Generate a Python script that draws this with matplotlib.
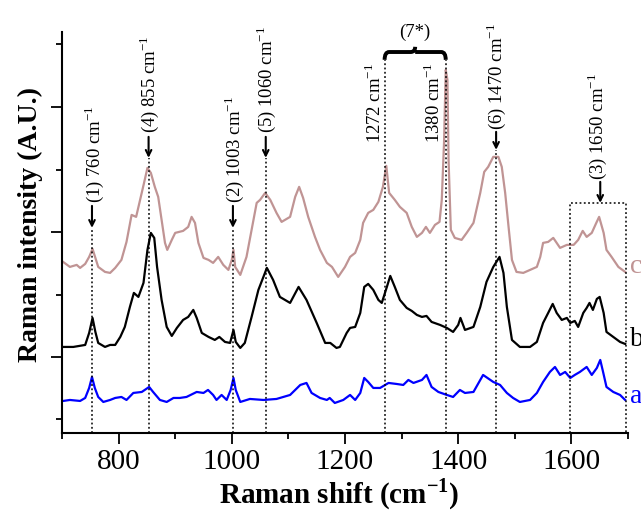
import numpy as np
import matplotlib
matplotlib.use("Agg")
import matplotlib.pyplot as plt
from matplotlib.path import Path
from matplotlib.patches import PathPatch

plt.rcParams['font.family'] = 'Liberation Serif'
plt.rcParams['mathtext.fontset'] = 'custom'
plt.rcParams['mathtext.rm'] = 'Liberation Serif'
plt.rcParams['mathtext.bf'] = 'Liberation Serif:bold'

#------------------------ spectra ------------------------
# (a) blue
a_x = [702, 714, 732, 741, 748, 753, 758, 764, 773, 785, 794, 805, 814, 826, 841, 854, 861, 873, 885, 897,
       908, 920, 938, 950, 958, 967, 973, 982, 991, 998, 1003, 1007, 1015, 1032, 1056, 1079, 1103, 1121, 1132, 1141,
       1156, 1168, 1173, 1182, 1197, 1209, 1218, 1227, 1234, 1241, 1250, 1262, 1277, 1291, 1303, 1312, 1321, 1336, 1344, 1353,
       1365, 1380, 1391, 1403, 1412, 1427, 1444, 1462, 1474, 1486, 1497, 1509, 1527, 1539, 1550, 1562, 1571, 1580, 1589, 1598,
       1606, 1615, 1627, 1636, 1645, 1651, 1656, 1662, 1674, 1686, 1695]
a_y = [32, 33, 32, 35, 45, 56, 45, 36, 31, 33, 35, 36, 33, 40, 41, 46, 41, 33, 31, 35,
       35, 36, 41, 40, 43, 38, 33, 38, 33, 43, 55, 43, 31, 34, 33, 34, 38, 48, 50, 40,
       35, 33, 35, 30, 33, 38, 33, 40, 55, 51, 45, 45, 50, 49, 48, 53, 50, 53, 58, 46,
       41, 38, 36, 43, 40, 41, 58, 51, 48, 40, 35, 31, 33, 40, 51, 61, 66, 58, 61, 55,
       58, 61, 66, 58, 65, 73, 61, 46, 41, 38, 33]

# (b) black
b_x = [702, 720, 741, 748, 754, 759, 764, 776, 785, 794, 803, 811, 820, 827, 835, 844, 851, 857, 863, 868,
       876, 885, 894, 903, 914, 923, 932, 938, 947, 959, 970, 978, 988, 997, 1003, 1007, 1015, 1023, 1035, 1047,
       1062, 1073, 1085, 1103, 1118, 1132, 1150, 1165, 1174, 1185, 1191, 1203, 1209, 1218, 1227, 1234, 1241, 1250, 1259, 1265,
       1274, 1280, 1288, 1297, 1309, 1318, 1327, 1336, 1344, 1353, 1368, 1380, 1391, 1400, 1404, 1412, 1427, 1439, 1450, 1462,
       1473, 1480, 1486, 1495, 1509, 1527, 1539, 1550, 1559, 1567, 1574, 1583, 1592, 1598, 1606, 1612, 1621, 1627, 1632, 1638,
       1645, 1650, 1657, 1662, 1674, 1686, 1695]
b_y = [86, 86, 88, 100, 115, 101, 90, 86, 88, 88, 96, 106, 126, 140, 136, 150, 183, 200, 195, 166,
       133, 106, 97, 105, 113, 116, 123, 115, 100, 96, 93, 96, 91, 90, 103, 91, 85, 90, 116, 143,
       165, 153, 136, 130, 146, 133, 110, 90, 90, 85, 86, 100, 105, 106, 120, 146, 149, 143, 133, 130,
       146, 157, 146, 133, 125, 122, 118, 116, 117, 111, 108, 105, 101, 108, 115, 103, 106, 126, 151, 166,
       176, 160, 126, 93, 86, 86, 91, 110, 120, 129, 120, 113, 115, 110, 112, 106, 120, 125, 130, 123,
       134, 136, 120, 101, 96, 91, 89]

# (c) brown
c_x = [702, 714, 726, 732, 741, 748, 754, 759, 764, 776, 785, 794, 805, 814, 823, 831, 838, 845, 851, 857,
       864, 870, 876, 882, 886, 894, 900, 914, 923, 929, 935, 941, 950, 959, 967, 976, 985, 994, 1000, 1003,
       1006, 1015, 1026, 1035, 1044, 1050, 1059, 1068, 1079, 1088, 1103, 1112, 1119, 1126, 1135, 1147, 1156, 1168, 1177, 1188,
       1200, 1209, 1218, 1227, 1232, 1241, 1250, 1259, 1267, 1273, 1278, 1288, 1297, 1309, 1318, 1327, 1336, 1343, 1350, 1359,
       1367, 1371, 1375, 1378, 1381, 1383, 1387, 1394, 1406, 1415, 1427, 1439, 1446, 1453, 1462, 1471, 1477, 1483, 1489, 1495,
       1503, 1515, 1527, 1539, 1545, 1550, 1559, 1568, 1574, 1580, 1592, 1604, 1612, 1620, 1627, 1636, 1644, 1649, 1657, 1662,
       1671, 1683, 1695]
c_y = [171, 166, 168, 165, 169, 176, 184, 175, 166, 161, 160, 165, 173, 191, 218, 216, 233, 250, 265, 260,
       246, 236, 213, 190, 183, 193, 200, 202, 206, 216, 210, 190, 175, 173, 170, 176, 168, 163, 173, 183,
       166, 158, 176, 203, 230, 233, 240, 233, 220, 211, 216, 236, 246, 235, 216, 196, 183, 170, 166, 156,
       166, 176, 180, 193, 210, 220, 223, 231, 246, 267, 240, 233, 226, 220, 206, 196, 200, 206, 200, 208,
       211, 233, 290, 363, 353, 273, 203, 195, 193, 200, 210, 240, 261, 266, 276, 276, 266, 240, 206, 173,
       161, 160, 163, 166, 176, 190, 191, 195, 190, 185, 188, 188, 193, 202, 196, 200, 210, 216, 200, 183,
       176, 166, 161]

#------------------------ bandas marcadas ------------------------
# (posicion de la linea, texto, posicion del texto)
bandas_flecha = [(753, '(1) 760 cm$^{-1}$', 756),
                 (853, '(4) 855 cm$^{-1}$', 853),
                 (1002, '(2) 1003 cm$^{-1}$', 1004),
                 (1060, '(5) 1060 cm$^{-1}$', 1060),
                 (1467, '(6) 1470 cm$^{-1}$', 1467)]
bandas_llave = [(1270, '1272 cm$^{-1}$', 1252),
                (1378, '1380 cm$^{-1}$', 1356)]
caja = [1598, 1696]

#------------------------ grafico ------------------------
fig = plt.figure(figsize=(6.41, 5.13), dpi=100)
ax = fig.add_axes([0.0967, 0.156, 0.883, 0.782])

ax.plot(c_x, c_y, color='#c09494', lw=1.6)
ax.plot(b_x, b_y, color='black', lw=1.6)
ax.plot(a_x, a_y, color='#0000ff', lw=1.6)

puntos = (0, (1.2, 1.6))
flecha_alta = [296, 275, 300]   # cola, punta, texto
flecha_baja = [227, 205, 230]
for x_l, txt, x_t in bandas_flecha:
    cola, punta, y_t = flecha_baja if x_l in (753, 1002) else flecha_alta
    if x_l == 1467:
        cola, punta, y_t = 301, 283, 303
    ax.plot([x_l, x_l], [0, punta], color='black', ls=puntos, lw=1.1)
    ax.annotate('', xy=(x_l, punta), xytext=(x_l, cola),
                arrowprops=dict(arrowstyle='->', lw=1.5, color='black',
                                shrinkA=0, shrinkB=0))
    ax.text(x_t, y_t, txt, rotation=90, ha='center', va='bottom', fontsize=13.5)

for x_l, txt, x_t in bandas_llave:
    ax.plot([x_l, x_l], [0, 373], color='black', ls=puntos, lw=1.1)
    ax.text(x_t, 290, txt, rotation=90, ha='center', va='bottom', fontsize=13.5)

# llave (7*)
x1, x2 = bandas_llave[0][0], bandas_llave[1][0]
xm = (x1 + x2) / 2
y0, h = 373, 13
verts = [(x1, y0), (x1, y0 + h * 0.6), (x1 + 8, y0 + h * 0.6),
         (xm - 8, y0 + h * 0.6), (xm, y0 + h * 0.6), (xm, y0 + h),
         (xm, y0 + h * 0.6), (xm + 8, y0 + h * 0.6),
         (x2 - 8, y0 + h * 0.6), (x2, y0 + h * 0.6), (x2, y0)]
codes = [Path.MOVETO, Path.CURVE3, Path.CURVE3, Path.LINETO, Path.CURVE3, Path.CURVE3,
         Path.MOVETO, Path.CURVE3, Path.LINETO, Path.CURVE3, Path.CURVE3]
ax.add_patch(PathPatch(Path(verts, codes), fill=False, lw=2.8, color='black', clip_on=False))
ax.text(xm, 392, '(7*)', ha='center', va='bottom', fontsize=13.5)

# caja (3) 1650
ax.plot([caja[0], caja[0], caja[1], caja[1]], [0, 230, 230, 0], color='black', ls=puntos, lw=1.1)
ax.annotate('', xy=(1651, 230), xytext=(1651, 251),
            arrowprops=dict(arrowstyle='->', lw=1.5, color='black', shrinkA=0, shrinkB=0))
ax.text(1645, 253, '(3) 1650 cm$^{-1}$', rotation=90, ha='center', va='bottom', fontsize=13.5)

# etiquetas a, b, c (cortadas en el borde, como en el original)
ax.text(1703, 166, 'c', color='#c09494', fontsize=20, va='center', clip_on=False)
ax.text(1703, 93, 'b', color='black', fontsize=20, va='center', clip_on=False)
ax.text(1703, 36, 'a', color='#0000ff', fontsize=20, va='center', clip_on=False)

ax.set_xlim(700, 1700)
ax.set_ylim(0, 401)
ax.set_xticks([800, 1000, 1200, 1400, 1600])
ax.set_xticks([700, 900, 1100, 1300, 1500, 1700], minor=True)
ax.set_yticks([76, 201, 326])
ax.set_yticks([14, 138, 263, 389], minor=True)
ax.set_yticklabels([])
ax.tick_params(axis='both', which='major', direction='out', length=8, width=1.3, labelsize=21)
ax.tick_params(axis='both', which='minor', direction='out', length=4.5, width=1.3)
ax.spines['top'].set_visible(False)
ax.spines['right'].set_visible(False)
ax.spines['left'].set_linewidth(1.5)
ax.spines['bottom'].set_linewidth(1.5)

ax.set_xlabel(r'Raman shift (cm$^{\mathbf{-1}}$)', fontsize=21, fontweight='bold', va='center')
ax.xaxis.set_label_coords(0.49, -0.152)
ax.set_ylabel('Raman intensity (A.U.)', fontsize=20, fontweight='bold', va='center')
ax.yaxis.set_label_coords(-0.055, 0.52)

fig.savefig('out.png', dpi=100)
